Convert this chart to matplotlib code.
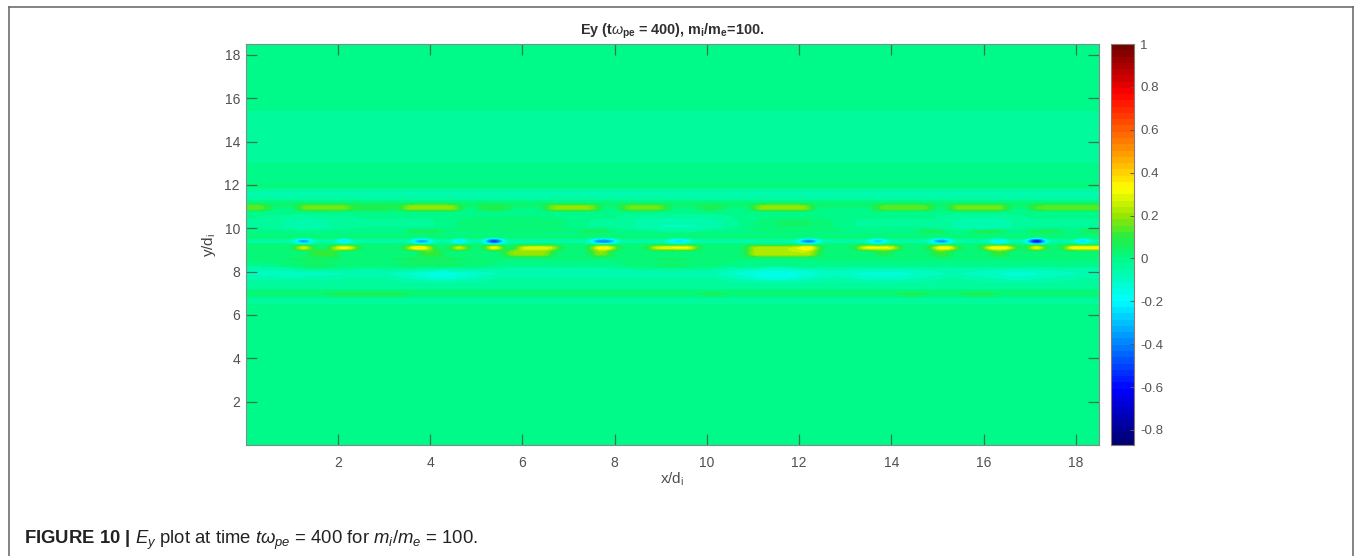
import numpy as np
import matplotlib
matplotlib.use("Agg")
import matplotlib.pyplot as plt
from matplotlib.colors import LinearSegmentedColormap, Normalize
from matplotlib.lines import Line2D

plt.rcParams['font.family'] = ['Liberation Sans', 'DejaVu Sans']
plt.rcParams['mathtext.fontset'] = 'custom'
plt.rcParams['mathtext.rm'] = 'Liberation Sans'
plt.rcParams['mathtext.it'] = 'Liberation Sans:italic'
plt.rcParams['mathtext.bf'] = 'Liberation Sans:bold'

# ---- values -----------------------------------------------------------
title_text = r"Ey (t$\omega_{\mathbf{pe}}$ = 400), m$_{\mathbf{i}}$/m$_{\mathbf{e}}$=100."
xlabel_text = r"x/d$_{\mathrm{i}}$"
ylabel_text = r"y/d$_{\mathrm{i}}$"
caption_text = (r"$\mathbf{FIGURE\ 10\ |}$ $\mathit{E_y}$ plot at time $\mathit{t\omega_{pe}}$ = 400 "
                r"for $\mathit{m_i/m_e}$ = 100.")
x_ticks = [2, 4, 6, 8, 10, 12, 14, 16, 18]
y_ticks = [2, 4, 6, 8, 10, 12, 14, 16, 18]
cbar_ticks = [-0.8, -0.6, -0.4, -0.2, 0, 0.2, 0.4, 0.6, 0.8, 1]
cbar_labels = ['-0.8', '-0.6', '-0.4', '-0.2', '0', '0.2', '0.4', '0.6', '0.8', '1']
v_min, v_max = -0.87, 1.0
x_max, y_max = 18.5, 18.5

# colour bar, value -> colour
cmap_values = [-0.87, -0.62, -0.2, 0.0, 0.1, 0.2, 0.33, 0.5, 0.78, 1.0]
cmap_colors = ['#000073', '#0000ff', '#00ffff', '#00fa85', '#26ed40', '#99e600',
               '#ffff00', '#ff9900', '#ff0000', '#730000']

# background of Ey by y (lower edge of each band, value in the band)
band_y = [0, 5, 6, 6.5, 6.8, 6.95, 7.1, 7.25, 7.4, 7.6, 7.8, 8.0, 8.2, 8.5, 8.8, 9.05,
          9.2, 9.35, 9.5, 9.7, 10, 10.4, 10.8, 11.0, 11.2, 11.4, 11.7, 11.9, 12.1, 12.4, 13, 15.5]
band_ey = [0.005, 0.0, -0.015, -0.03, 0.0, 0.035, 0.015, -0.05, -0.04, -0.05, -0.08, -0.06, 0.0, 0.025,
           0.02, 0.03, 0.02, -0.06, 0.02, 0.0, -0.03, -0.02, 0.0, 0.04, -0.02, -0.06, -0.03, 0.03,
           -0.02, 0.0, -0.025, 0.005]

# streaks along y = 10.95
s11_x0 = [0.0, 1.17, 2.3, 3.34, 5.0, 6.45, 8.16, 9.8, 11.0, 13.6, 15.3, 17.0]
s11_x1 = [0.45, 2.26, 3.3, 4.65, 5.8, 7.6, 9.14, 10.4, 12.25, 14.9, 16.5, 18.5]
s11_ey = [0.15, 0.17, 0.08, 0.2, 0.08, 0.19, 0.16, 0.07, 0.2, 0.15, 0.17, 0.14]

# streaks along y = 9.85
s98_x0 = [3.5, 7.3, 14.57, 15.7, 17.0, 18.1]
s98_x1 = [4.2, 7.85, 15.13, 16.4, 17.6, 18.5]
s98_ey = [0.12, 0.12, 0.13, 0.15, 0.13, 0.13]

# streaks along y = 6.95
s69_x0 = [1.8, 9.9, 14.1, 15.56]
s69_x1 = [3.5, 10.4, 14.7, 16.2]
s69_ey = [0.1, 0.09, 0.1, 0.1]

# warm lobes along y = 9.08
warm_x0 = [1.1, 1.82, 3.52, 4.48, 5.2, 5.9, 7.47, 8.7, 9.2, 10.9, 12.05, 13.3, 14.85, 16.0, 16.98, 17.78]
warm_x1 = [1.42, 2.32, 4.06, 4.78, 5.45, 6.8, 8.0, 9.4, 9.75, 12.0, 12.33, 14.15, 15.33, 16.6, 17.22, 18.47]
warm_ey = [0.38, 0.34, 0.38, 0.36, 0.45, 0.3, 0.36, 0.3, 0.33, 0.24, 0.38, 0.32, 0.36, 0.36, 0.42, 0.36]

# cold lobes along y = 9.38
cold_x0 = [1.1, 2.0, 3.6, 4.5, 5.2, 7.55, 9.1, 12.03, 13.5, 14.9, 16.1, 16.98, 18.0]
cold_x1 = [1.42, 2.28, 3.95, 4.78, 5.45, 7.95, 9.6, 12.38, 13.9, 15.3, 16.5, 17.22, 18.3]
cold_ey = [-0.5, -0.32, -0.38, -0.32, -0.75, -0.42, -0.25, -0.45, -0.3, -0.42, -0.25, -0.85, -0.35]

# faint yellow spread under the lobes, y = 8.82
low_x0 = [1.4, 3.7, 5.6, 7.5, 10.9, 13.6, 14.9, 16.1]
low_x1 = [2.0, 4.3, 6.6, 7.9, 12.4, 14.0, 15.3, 16.5]
low_ey = [0.12, 0.12, 0.2, 0.2, 0.24, 0.09, 0.13, 0.12]

# cyan clouds
cloud_y = [7.85, 7.85, 7.85, 7.85, 10.2, 10.2, 10.2, 8.0]
cloud_x0 = [3.6, 10.8, 13.0, 16.0, 8.5, 15.4, 0.6, 0.2]
cloud_x1 = [4.9, 12.3, 14.6, 17.5, 10.2, 16.5, 2.0, 1.6]
cloud_ey = [-0.15, -0.16, -0.12, -0.11, -0.08, -0.08, -0.06, -0.1]

# green clouds
glow_y = [8.4, 8.4, 8.4, 10.2, 10.2]
glow_x0 = [0.8, 3.0, 8.5, 4.5, 11.0]
glow_x1 = [2.2, 5.0, 10.0, 7.0, 12.8]
glow_ey = [0.04, 0.04, 0.035, 0.035, 0.04]

# ---- grid of cells ----------------------------------------------------
dx, dy = 0.125, 0.1
x_cells = np.arange(dx / 2, x_max, dx)
y_cells = np.arange(dy / 2, y_max, dy)
field = np.array(band_ey)[np.searchsorted(band_y, y_cells, side='right') - 1][:, None] * np.ones(x_cells.size)


def put(layer, y, x0s, x1s, eys, half):
    if np.isscalar(y):
        y = [y] * len(x0s)
    for yy, a, b, v in zip(y, x0s, x1s, eys):
        jj = np.abs(y_cells - yy) <= half
        ii = (x_cells >= a) & (x_cells <= b)
        layer[np.ix_(jj, ii)] = v


def soften(layer, kernel, axis):
    k = np.array(kernel, float)
    k /= k.sum()
    return np.apply_along_axis(lambda r: np.convolve(np.pad(r, len(k), mode='edge'), k, 'same')[len(k):-len(k)],
                               axis, layer)


clouds = np.full_like(field, np.nan)
put(clouds, cloud_y, cloud_x0, cloud_x1, cloud_ey, 0.28)
put(clouds, glow_y, glow_x0, glow_x1, glow_ey, 0.3)
clouds = np.where(np.isnan(clouds), field, clouds) - field
clouds = soften(soften(clouds, [1] * 9, 1), [1] * 3, 0)
field = field + clouds

fine = np.zeros_like(field)
put(fine, 10.95, s11_x0, s11_x1, s11_ey, 0.11)
put(fine, 9.85, s98_x0, s98_x1, s98_ey, 0.09)
put(fine, 6.95, s69_x0, s69_x1, s69_ey, 0.07)
put(fine, 8.82, low_x0, low_x1, low_ey, 0.16)
put(fine, 9.08, warm_x0, warm_x1, warm_ey, 0.11)
put(fine, 9.38, cold_x0, cold_x1, cold_ey, 0.1)
fine = soften(fine, [1, 2, 1], 1)
field = np.where(np.abs(fine) > 0.03, np.where(np.abs(fine) > np.abs(field), fine, field), field)

# ---- drawing ----------------------------------------------------------
W, H = 1354, 556
fig = plt.figure(figsize=(W / 100, H / 100), dpi=100, facecolor='white')


def axes_px(l, t, r, b):
    return fig.add_axes([l / W, 1 - b / H, (r - l) / W, (b - t) / H])


cmap = LinearSegmentedColormap.from_list(
    'ey', [((v - v_min) / (v_max - v_min), c) for v, c in zip(cmap_values, cmap_colors)], N=64)
norm = Normalize(v_min, v_max)

ax = axes_px(245.5, 44, 1099, 445)
im = ax.imshow(field, origin='lower', extent=[0, x_max, 0, y_max], aspect='auto', cmap=cmap, norm=norm,
               interpolation='bicubic', interpolation_stage='data')
ax.set_xticks(x_ticks)
ax.set_yticks(y_ticks)
ax.tick_params(direction='in', length=8, width=0.9, color='#2a7a4a', labelcolor='#505050',
               labelsize=10, top=True, right=True)
ax.tick_params(axis='x', pad=8)
ax.tick_params(axis='y', pad=4)
for s in ax.spines.values():
    s.set_color('#7f8c88')
    s.set_linewidth(0.8)
ax.set_title(title_text, fontsize=10.4, fontweight='bold', color='#303030', pad=7)
ax.set_xlabel(xlabel_text, fontsize=11, color='#505050')
ax.set_ylabel(ylabel_text, fontsize=11, color='#404040')
ax.xaxis.set_label_coords(0.5, -0.065)
ax.yaxis.set_label_coords(-0.032, 0.5)

cax = axes_px(1111, 44, 1134, 445)
cb = fig.colorbar(im, cax=cax)
cb.set_ticks(cbar_ticks)
cb.set_ticklabels(cbar_labels)
cb.ax.tick_params(direction='in', length=3, width=0.7, color='#555555', labelcolor='#555555',
                  labelsize=9.6, pad=4.5)
cb.outline.set_edgecolor('#8a7a70')
cb.outline.set_linewidth(0.8)

# frame round the figure, open at the bottom
for xs, ys in [([8.5, 8.5], [H, 6.5]), ([8.5, 1353], [6.5, 6.5]), ([1353, 1353], [6.5, H])]:
    fig.add_artist(Line2D([v / W for v in xs], [1 - v / H for v in ys], color='#6e6e6e', lw=1.2))

fig.text(24 / W, 1 - 544 / H, caption_text, fontsize=13.35, color='#222222', va='baseline', ha='left')

fig.savefig('out.png', dpi=100, facecolor='white')
